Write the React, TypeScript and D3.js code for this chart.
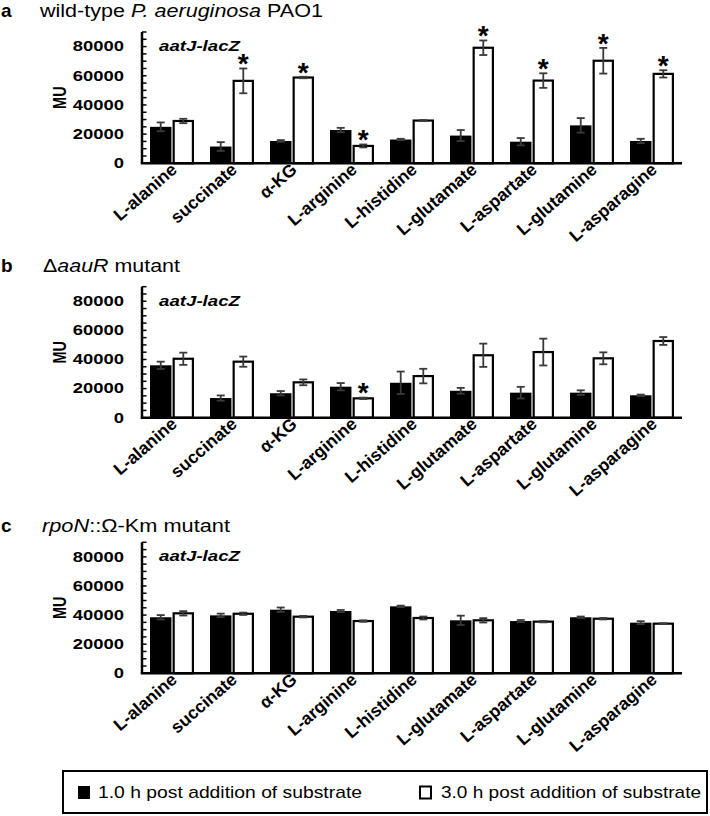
import React from "react";
import * as d3 from "d3";

const categories = ["L-alanine", "succinate", "α-KG", "L-arginine", "L-histidine", "L-glutamate", "L-aspartate", "L-glutamine", "L-asparagine"];
const seriesNames = ["1.0 h post addition of substrate", "3.0 h post addition of substrate"];
const yTicks = [0, 20000, 40000, 60000, 80000];

const a1h = [25000, 11500, 15300, 22800, 16300, 19000, 14800, 26000, 15300];
const a1hErr = [3000, 3000, 600, 1500, 500, 3800, 2500, 5000, 1500];
const a3h = [29000, 56500, 58800, 11900, 29300, 79200, 56700, 70300, 61300];
const a3hErr = [1500, 8500, 500, 1000, 300, 5000, 5000, 8800, 2500];
const aStar = [false, true, true, true, false, true, true, true, true];

const b1h = [36000, 13500, 16800, 21300, 24000, 18500, 17200, 17200, 15400];
const b1hErr = [2500, 1800, 1500, 2500, 7700, 2000, 4000, 1600, 500];
const b3h = [40500, 38500, 24300, 13300, 28600, 42900, 45100, 40800, 52700];
const b3hErr = [4200, 3500, 2000, 500, 5000, 8000, 9200, 4100, 2700];
const bStar = [false, false, false, true, false, false, false, false, false];

const c1h = [38500, 39800, 43700, 42800, 46000, 36400, 35900, 38500, 34800];
const c1hErr = [1500, 1200, 1500, 700, 500, 3200, 700, 500, 1000];
const c3h = [41200, 40900, 38900, 35900, 38000, 36400, 35500, 37500, 34100];
const c3hErr = [1500, 800, 500, 500, 1000, 1500, 500, 500, 300];
const cStar = [false, false, false, false, false, false, false, false, false];

const FONT = "'Liberation Sans', Arial, sans-serif";
const SX = 1.27;
const LABEL_ANGLE = -41;

type PanelProps = {
  top: number; base: number;
  v1: number[]; e1: number[]; v3: number[]; e3: number[]; stars: boolean[];
};

const X0 = 142, X1 = 682;

function Panel({ top, base, v1, e1, v3, e3, stars }: PanelProps) {
  const y = d3.scaleLinear().domain([0, 90000]).range([base, top]);
  const x = d3.scaleBand<string>().domain(categories).range([X0, X1]);
  const sub = d3.scaleBand<string>().domain(["1h", "3h"]).range([8, 52]).paddingInner(0.05);
  const bw = sub.bandwidth();
  const minor = d3.range(0, 90001, 5000);
  const errColor = "#3a3a3a";
  const sfs = 28;
  return (
    <g>
      {minor.map((t) => (
        <line key={"m" + t} x1={X0} x2={X0 + 4.5} y1={y(t)} y2={y(t)} stroke="#000" strokeWidth={1.5} />
      ))}
      {yTicks.map((t) => (
        <text key={"t" + t} transform={`translate(124,${y(t)}) scale(${SX},1)`} textAnchor="end" dominantBaseline="central"
          fontFamily={FONT} fontWeight="bold" fontSize={14.5}>{t}</text>
      ))}
      <text transform={`translate(60,${(top + base) / 2}) scale(${SX},1) rotate(-90)`} textAnchor="middle" dominantBaseline="central"
        fontFamily={FONT} fontWeight="bold" fontSize={14.5}>MU</text>
      <text x={159} y={top + 19} fontFamily={FONT} fontWeight="bold" fontStyle="italic" fontSize={15} textLength={81} lengthAdjust="spacingAndGlyphs">aatJ-lacZ</text>
      {categories.map((c, i) => {
        const cx = x(c)!;
        const bx = cx + sub("1h")!;
        const wx = cx + sub("3h")!;
        const bTop = y(v1[i]);
        const wTop = y(v3[i]);
        const bc = bx + bw / 2;
        const wc = wx + bw / 2;
        const eb1 = y(v1[i] + e1[i]), eb2 = y(v1[i] - e1[i]);
        const ew1 = y(v3[i] + e3[i]), ew2 = y(v3[i] - e3[i]);
        return (
          <g key={c}>
            <rect x={bx} y={bTop} width={bw} height={base - bTop} fill="#000" />
            <rect x={wx + 1.1} y={wTop} width={bw - 2.2} height={base - wTop} fill="#fff" stroke="#000" strokeWidth={2.2} />
            <g stroke={errColor} strokeWidth={1.8}>
              <line x1={bc} x2={bc} y1={eb1} y2={eb2} />
              <line x1={bc - 4} x2={bc + 4} y1={eb1} y2={eb1} />
              <line x1={bc - 4} x2={bc + 4} y1={eb2} y2={eb2} />
              <line x1={wc} x2={wc} y1={ew1} y2={ew2} />
              <line x1={wc - 4} x2={wc + 4} y1={ew1} y2={ew1} />
              <line x1={wc - 4} x2={wc + 4} y1={ew2} y2={ew2} />
            </g>
            {stars[i] && (
              <text x={wc} y={ew1 - 3 + 0.28 * sfs} textAnchor="middle" fontFamily={FONT} fontWeight="bold" fontSize={sfs}>*</text>
            )}
            <text transform={`translate(${cx + 36},${base + 8}) rotate(${LABEL_ANGLE})`} textAnchor="end"
              fontFamily={FONT} fontWeight="bold" fontSize={17.5}>{c}</text>
          </g>
        );
      })}
      <line x1={X0} x2={X0} y1={top} y2={base} stroke="#000" strokeWidth={2.5} />
      <line x1={X0 - 1.25} x2={X1} y1={base} y2={base} stroke="#000" strokeWidth={2.5} />
    </g>
  );
}

export default function App() {
  return (
    <svg width={710} height={816} style={{ position: "absolute", left: 0, top: 0, background: "#fff" }}>
      <rect width={710} height={816} fill="#fff" />
      <text x={1} y={17} fontFamily={FONT} fontWeight="bold" fontSize={19}>a</text>
      <text x={40} y={17} fontFamily={FONT} fontSize={17.5} textLength={283} lengthAdjust="spacingAndGlyphs">
        wild-type <tspan fontStyle="italic">P. aeruginosa</tspan> PAO1
      </text>
      <text x={1} y={272} fontFamily={FONT} fontWeight="bold" fontSize={19}>b</text>
      <text x={43} y={272} fontFamily={FONT} fontSize={17.5} textLength={137} lengthAdjust="spacingAndGlyphs">
        Δ<tspan fontStyle="italic">aauR</tspan> mutant
      </text>
      <text x={1} y={532} fontFamily={FONT} fontWeight="bold" fontSize={19}>c</text>
      <text x={42} y={532} fontFamily={FONT} fontSize={17.5} textLength={188} lengthAdjust="spacingAndGlyphs">
        <tspan fontStyle="italic">rpoN</tspan>::Ω-Km mutant
      </text>

      <Panel top={32} base={163.3} v1={a1h} e1={a1hErr} v3={a3h} e3={a3hErr} stars={aStar} />
      <Panel top={286.7} base={417.7} v1={b1h} e1={b1hErr} v3={b3h} e3={b3hErr} stars={bStar} />
      <Panel top={542.3} base={673.3} v1={c1h} e1={c1hErr} v3={c3h} e3={c3hErr} stars={cStar} />

      <rect x={63} y={771} width={644} height={42} fill="#fff" stroke="#000" strokeWidth={2} />
      <rect x={78} y={786} width={12} height={13} fill="#000" />
      <text x={98} y={798} fontFamily={FONT} fontSize={17} textLength={264} lengthAdjust="spacingAndGlyphs">{seriesNames[0]}</text>
      <rect x={420} y={786.5} width={11} height={12} fill="#fff" stroke="#000" strokeWidth={2} />
      <text x={441} y={798} fontFamily={FONT} fontSize={17} textLength={260} lengthAdjust="spacingAndGlyphs">{seriesNames[1]}</text>
    </svg>
  );
}
